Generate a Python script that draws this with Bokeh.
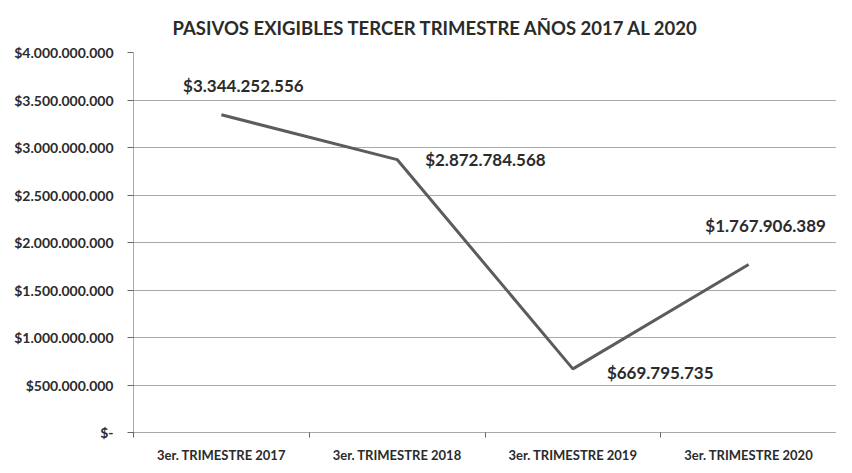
from bokeh.plotting import figure
from bokeh.models import ColumnDataSource, FixedTicker, Range1d, Title, LabelSet
from bokeh.embed import file_html
from bokeh.resources import INLINE
from bokeh.core.properties import value

# Data
categories = ["3er. TRIMESTRE 2017", "3er. TRIMESTRE 2018", "3er. TRIMESTRE 2019", "3er. TRIMESTRE 2020"]
values = [3344252556, 2872784568, 669795735, 1767906389]
value_labels = ["$3.344.252.556", "$2.872.784.568", "$669.795.735", "$1.767.906.389"]
y_ticks = [0, 500000000, 1000000000, 1500000000, 2000000000, 2500000000, 3000000000, 3500000000, 4000000000]

def fmt(v):
    if v == 0:
        return "$-"
    return "$" + "{:,}".format(v).replace(",", ".")

FONT = "Lato"
TXT = "#2b2b2b"

xs = [i + 0.5 for i in range(len(categories))]

p = figure(width=836, height=465, output_backend="svg", toolbar_location=None,
           x_range=Range1d(0, len(categories)), y_range=Range1d(0, 4000000000),
           min_border_left=133, min_border_right=0, min_border_bottom=0, min_border_top=18)
p.outline_line_color = None

t = Title(text="PASIVOS EXIGIBLES TERCER TRIMESTRE  AÑOS 2017 AL 2020", align="left",
          text_font=FONT, text_font_size="18.5px", text_font_style="bold", text_color=TXT,
          offset=39, standoff=28)
p.add_layout(t, "above")

src = ColumnDataSource(dict(x=xs, y=values))
p.line("x", "y", source=src, line_color="#5c5c5c", line_width=3)

# value labels: (index, x offset, y offset, align) are styling only
placements = [(0, 22, 29, "center"), (1, 28, 0, "left"), (2, 34, -4, "left"), (3, 17, 39, "center")]
for al in ("center", "left"):
    sel = [pl for pl in placements if pl[3] == al]
    s = ColumnDataSource(dict(x=[xs[i] for i, _, _, _ in sel], y=[values[i] for i, _, _, _ in sel],
                              lab=[value_labels[i] for i, _, _, _ in sel],
                              xo=[xo for _, xo, _, _ in sel], yo=[yo for _, _, yo, _ in sel]))
    p.add_layout(LabelSet(x="x", y="y", text="lab", source=s, x_offset="xo", y_offset="yo",
                          text_align=al, text_baseline="middle",
                          text_font=value(FONT), text_font_size="17px", text_font_style="bold",
                          text_color=TXT))

# x axis
xa = p.xaxis[0]
xa.ticker = FixedTicker(ticks=xs, minor_ticks=list(range(len(categories) + 1)))
xa.major_label_overrides = {x: c for x, c in zip(xs, categories)}
xa.major_tick_out = 0
xa.major_tick_in = 0
xa.minor_tick_out = 5
xa.minor_tick_in = 0
xa.minor_tick_line_color = "#666666"
xa.axis_line_color = "#555555"
xa.axis_line_dash = "1 1"
xa.major_label_text_font = FONT
xa.major_label_text_font_size = "13px"
xa.major_label_text_font_style = "bold"
xa.major_label_text_color = TXT
xa.major_label_standoff = 9

# y axis
ya = p.yaxis[0]
ya.ticker = FixedTicker(ticks=y_ticks)
ya.major_label_overrides = {v: fmt(v) for v in y_ticks}
ya.major_tick_out = 6
ya.major_tick_in = 0
ya.minor_tick_line_color = None
ya.major_tick_line_color = "#666666"
ya.axis_line_color = "#555555"
ya.axis_line_dash = "1 1"
ya.major_label_text_font = FONT
ya.major_label_text_font_size = "14px"
ya.major_label_text_font_style = "bold"
ya.major_label_text_color = TXT
ya.major_label_standoff = 14

p.xgrid.grid_line_color = None
p.ygrid.grid_line_color = "#555555"
p.ygrid.grid_line_dash = "1 1"
p.ygrid.grid_line_width = 1

open("out.html", "w").write(file_html(p, INLINE))
